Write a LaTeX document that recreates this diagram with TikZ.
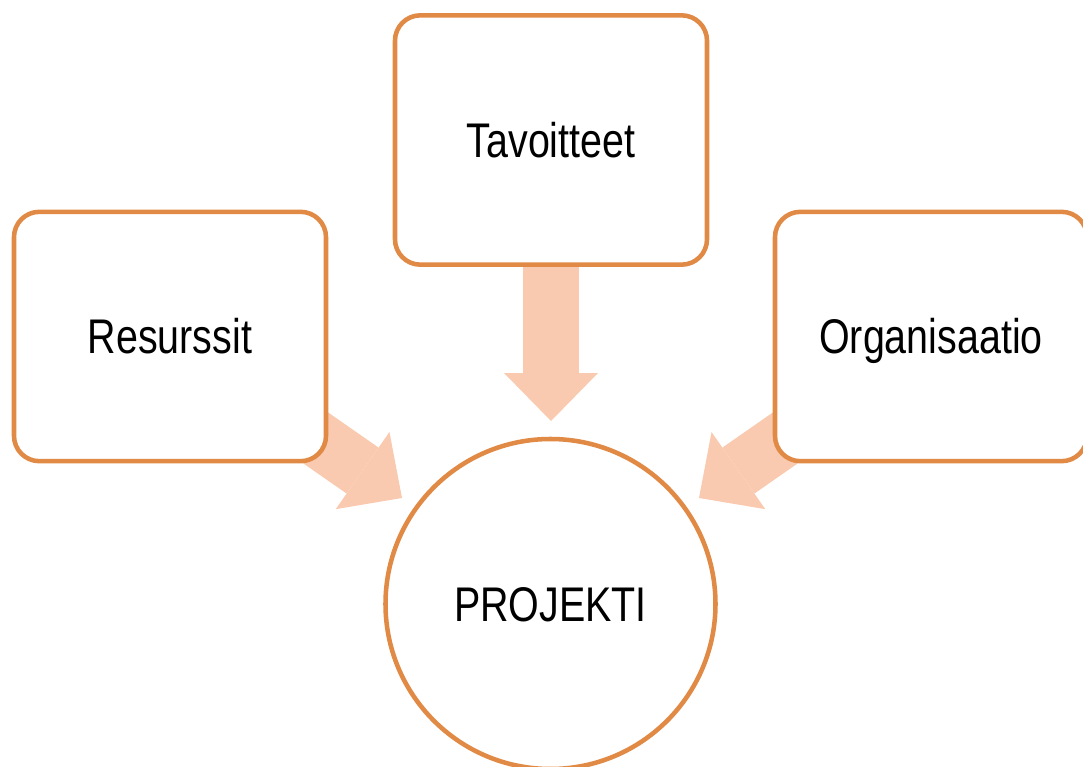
\documentclass[tikz,border=0pt]{standalone}
\usepackage{fontspec}
\setmainfont{Liberation Sans}
\usetikzlibrary{arrows.meta}
\definecolor{boxorange}{HTML}{E08A45}
\definecolor{peach}{HTML}{F9CAAF}
\newcommand{\sqz}[1]{\scalebox{0.81}[1]{#1}}
\pgfdeclarelayer{background}
\pgfsetlayers{background,main}
\begin{document}
\begin{tikzpicture}[x=0.75pt,y=-0.75pt,
  lbl/.style={font=\fontsize{36.5}{43}\selectfont, text height=26pt, text depth=0pt},
  box/.style={lbl, draw=boxorange, line width=3.4pt, fill=white, rounded corners=19pt,
    minimum width=234pt, minimum height=187pt, inner sep=0pt},
  hub/.style={lbl, circle, draw=boxorange, line width=3.4pt, fill=white,
    minimum size=247.5pt, inner sep=0pt},
  flow/.style={draw=peach, line width=42pt,
    -{Triangle[width=70.5pt,length=36pt,line width=0pt]}}]
\useasboundingbox (0,0) rectangle (1083,767);
\clip (0,0) rectangle (1083,767);
\node[box] (res) at (170,336.5) {\sqz{Resurssit}};
\node[box] (tav) at (551,140) {\sqz{Tavoitteet}};
\node[box] (org) at (931,336.5) {\sqz{Organisaatio}};
\node[hub] (proj) at (550.5,604) {\sqz{PROJEKTI}};
\coordinate (tipL) at (402,498);
\coordinate (tipT) at (551,421);
\coordinate (tipR) at (699,498);
\begin{pgfonlayer}{background}
\draw[flow] (res.center) -- (tipL);
\draw[flow] (tav.center) -- (tipT);
\draw[flow] (org.center) -- (tipR);
\end{pgfonlayer}
\end{tikzpicture}
\end{document}
